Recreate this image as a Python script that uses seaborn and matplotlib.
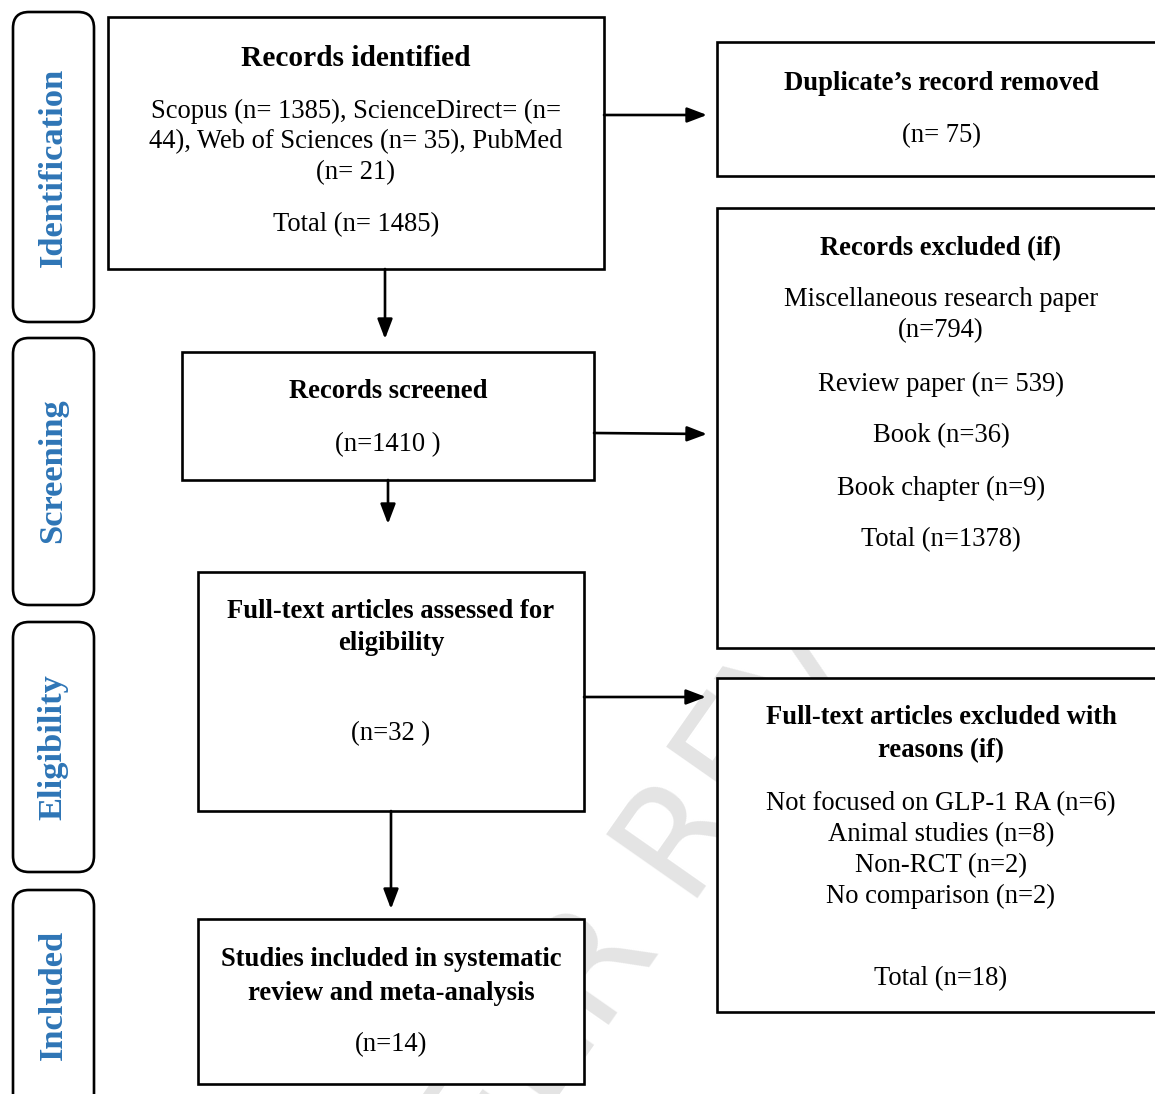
import matplotlib
matplotlib.use("Agg")
import matplotlib.pyplot as plt
import seaborn as sns
from matplotlib.patches import Rectangle, FancyBboxPatch

# ---------------- data ----------------
stages = ["Identification", "Screening", "Eligibility", "Included"]
source_names = ["Scopus", "ScienceDirect", "Web of Sciences", "PubMed"]
source_counts = [1385, 44, 35, 21]
total_identified = 1485
duplicates_removed = 75
records_screened = 1410
excluded_reasons = ["Miscellaneous research paper", "Review paper", "Book", "Book chapter"]
excluded_counts = [794, 539, 36, 9]
excluded_total = 1378
fulltext_assessed = 32
fulltext_reasons = ["Not focused on GLP-1 RA", "Animal studies", "Non-RCT", "No comparison"]
fulltext_counts = [6, 8, 2, 2]
fulltext_total = 18
studies_included = 14

# ---------------- style ----------------
sns.set_theme(style="white")
plt.rcParams["font.family"] = ["Liberation Serif", "DejaVu Serif"]

W, H = 1155, 1094
fig = plt.figure(figsize=(W / 100, H / 100), dpi=100)
ax = fig.add_axes([0, 0, 1, 1])
ax.set_xlim(0, W)
ax.set_ylim(H, 0)
ax.set_axis_off()

FS = 19.2
BLUE = "#2E75B6"
LW = 1.9
DY = 3  # small vertical text offset

# faint watermark (hidden behind the white boxes)
ax.text(700, 820, "PEER REVIEW", rotation=55, fontsize=110, color="#e4e4e4",
        family="DejaVu Sans", ha="center", va="center", zorder=0, clip_on=True)


def box(x0, y0, x1, y1):
    ax.add_patch(Rectangle((x0, y0), x1 - x0, y1 - y0, facecolor="white",
                           edgecolor="black", lw=LW, zorder=2, clip_on=True))


def txt(x, y, s, bold=False, size=FS):
    ax.text(x, y + DY, s, ha="center", va="center", fontsize=size,
            fontweight="bold" if bold else "normal", color="black", zorder=3)


def arrow(x0, y0, x1, y1):
    ax.annotate("", xy=(x1, y1), xytext=(x0, y0),
                arrowprops=dict(arrowstyle="-|>,head_length=1.0,head_width=0.38",
                                color="black", lw=LW, shrinkA=0, shrinkB=0), zorder=3)


# side stage labels
stage_spans = [(12, 322), (338, 605), (622, 872), (890, 1110)]
stage_centers = [167, 471, 747, 995]
for name, (y0, y1), yc in zip(stages, stage_spans, stage_centers):
    ax.add_patch(FancyBboxPatch((13, y0), 81, y1 - y0,
                                boxstyle="round,pad=0,rounding_size=16",
                                facecolor="white", edgecolor="black", lw=LW, zorder=2))
    ax.text(53, yc, name, rotation=90, ha="center", va="center", fontsize=24.8,
            fontweight="bold", color=BLUE, zorder=3)

# Records identified
box(108, 17, 604, 269)
txt(356, 55, "Records identified", bold=True, size=21.2)
src = [f"{n} (n= {c})" for n, c in zip(source_names, source_counts)]
txt(356, 108, f"{src[0]}, {source_names[1]}= (n=")
txt(356, 139, f"{source_counts[1]}), {src[2]}, {source_names[3]}")
txt(356, 170, f"(n= {source_counts[3]})")
txt(356, 222, f"Total (n= {total_identified})")

# Duplicates
box(717, 42, 1175, 176)
txt(941, 80, "Duplicate’s record removed", bold=True)
txt(941, 133, f"(n= {duplicates_removed})")
arrow(604, 115, 707, 115)

# Records screened
arrow(385, 269, 385, 339)
box(182, 352, 594, 480)
txt(388, 388, "Records screened", bold=True)
txt(388, 442, f"(n={records_screened} )")

# Records excluded
box(717, 208, 1175, 648)
txt(941, 246, "Records excluded (if)", bold=True)
txt(941, 297, excluded_reasons[0])
txt(941, 328, f"(n={excluded_counts[0]})")
txt(941, 381, f"{excluded_reasons[1]} (n= {excluded_counts[1]})")
txt(941, 433, f"{excluded_reasons[2]} (n={excluded_counts[2]})")
txt(941, 485, f"{excluded_reasons[3]} (n={excluded_counts[3]})")
txt(941, 537, f"Total (n={excluded_total})")
arrow(594, 433, 707, 434)

# Full-text assessed
arrow(388, 480, 388, 524)
box(198, 572, 584, 811)
txt(391, 608, "Full-text articles assessed for", bold=True)
txt(391, 641, "eligibility", bold=True)
txt(391, 731, f"(n={fulltext_assessed} )")

# Full-text excluded
box(717, 678, 1175, 1012)
txt(941, 714, "Full-text articles excluded with", bold=True)
txt(941, 748, "reasons (if)", bold=True)
for i, (r, c) in enumerate(zip(fulltext_reasons, fulltext_counts)):
    txt(941, 801 + i * 30.7, f"{r} (n={c})")
txt(941, 976, f"Total (n={fulltext_total})")
arrow(584, 697, 706, 697)

# Studies included
arrow(391, 811, 391, 909)
box(198, 919, 584, 1084)
txt(391, 957, "Studies included in systematic", bold=True)
txt(391, 990, "review and meta-analysis", bold=True)
txt(391, 1042, f"(n={studies_included})")

fig.savefig("out.png", dpi=100, facecolor="white")
